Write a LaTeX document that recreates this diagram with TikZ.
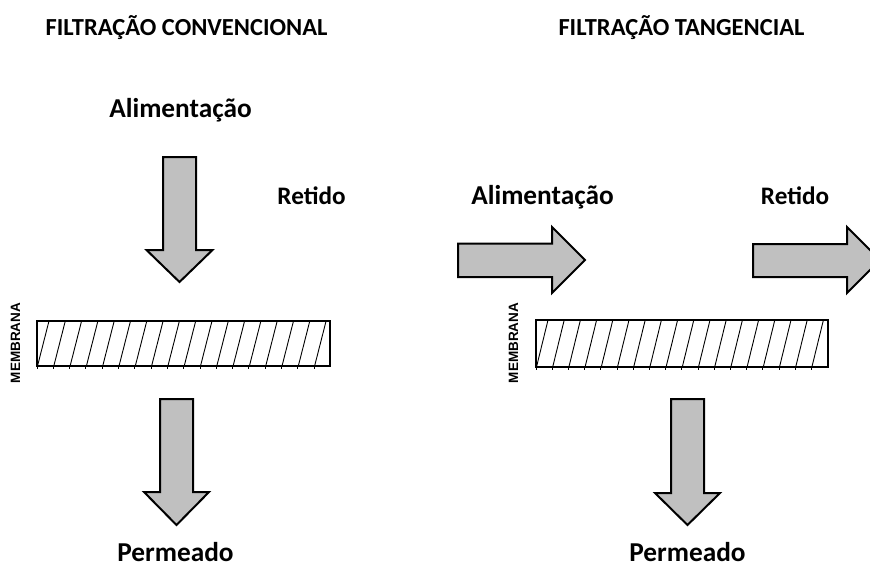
\documentclass[tikz,border=0pt]{standalone}
\usepackage{fontspec}
\setmainfont{Carlito}
\newfontfamily\memfont{Liberation Sans}
\definecolor{arrowgray}{HTML}{C0C0C0}
\begin{document}
\begin{tikzpicture}[x=1pt,y=-1pt,
  blockarrow/.style={fill=arrowgray,draw=black,line width=2pt,line join=miter},
  membox/.style={draw=black,line width=2.4pt},
  hatchline/.style={draw=black,line width=0.9pt},
  titletext/.style={font=\bfseries\fontsize{24.5}{24.5}\selectfont,anchor=base,inner sep=0pt},
  labeltext/.style={font=\bfseries\fontsize{27.3}{27.3}\selectfont,anchor=base,inner sep=0pt},
  smalllabel/.style={font=\bfseries\fontsize{25.2}{25.2}\selectfont,anchor=base,inner sep=0pt},
  memtext/.style={font=\memfont\bfseries\fontsize{13.5}{13.5}\selectfont,rotate=90,inner sep=0pt}]
\clip (0,0) rectangle (870,568);
\fill[white] (0,0) rectangle (870,568);

% titles
\node[titletext] (t1) at (186.5,35) {FILTRAÇÃO CONVENCIONAL};
\node[titletext] (t2) at (681.5,35) {FILTRAÇÃO TANGENCIAL};

% labels left
\node[labeltext] (alim1) at (180.5,117) {Alimentação};
\node[smalllabel] (ret1) at (311.5,204) {Retido};
\node[labeltext] (perm1) at (175.5,561) {Permeado};
% labels right
\node[labeltext] (alim2) at (542.5,204) {Alimentação};
\node[smalllabel] (ret2) at (795,204) {Retido};
\node[labeltext] (perm2) at (687.5,561) {Permeado};

% MEMBRANA
\node[memtext] (mem1) at (15.5,343) {MEMBRANA};
\node[memtext] (mem2) at (513.5,343) {MEMBRANA};

% left feed arrow (down)
\draw[blockarrow] (163,157) -- (196,157) -- (196,250) -- (212.5,250) -- (179.5,282)
  -- (146.5,250) -- (163,250) -- cycle;
% left permeate arrow (down)
\draw[blockarrow] (160,399) -- (193,399) -- (193,492) -- (209,492) -- (176.5,525)
  -- (144,492) -- (160,492) -- cycle;
% right permeate arrow (down)
\draw[blockarrow] (671,399) -- (704,399) -- (704,493) -- (720,493) -- (687.5,525)
  -- (655,493) -- (671,493) -- cycle;
% right feed arrow (right)
\draw[blockarrow] (458,243.5) -- (552,243.5) -- (552,227) -- (585,260) -- (552,293)
  -- (552,277) -- (458,277) -- cycle;
% right retentate arrow (right)
\draw[blockarrow] (753,244) -- (847,244) -- (847,227) -- (880,260) -- (847,293)
  -- (847,277) -- (753,277) -- cycle;

% left membrane
\begin{scope}
  \clip (37,321) rectangle (330,366);
  \foreach \k in {0,...,18} {
    \draw[hatchline] ({37+\k*16.3},368) -- ({49.5+\k*16.3},319);
  }
\end{scope}
\foreach \k in {0,...,17} {
  \draw[hatchline] ({37+\k*16.3},366) -- ({37+\k*16.3},368.5);
}
\draw[membox] (37,321) rectangle (330,366);

% right membrane
\begin{scope}
  \clip (536,320) rectangle (828,367);
  \foreach \k in {0,...,18} {
    \draw[hatchline] ({536+\k*16.2},369) -- ({548.5+\k*16.2},318);
  }
\end{scope}
\foreach \k in {0,...,17} {
  \draw[hatchline] ({536+\k*16.2},367) -- ({536+\k*16.2},369.5);
}
\draw[membox] (536,320) rectangle (828,367);
\end{tikzpicture}
\end{document}
